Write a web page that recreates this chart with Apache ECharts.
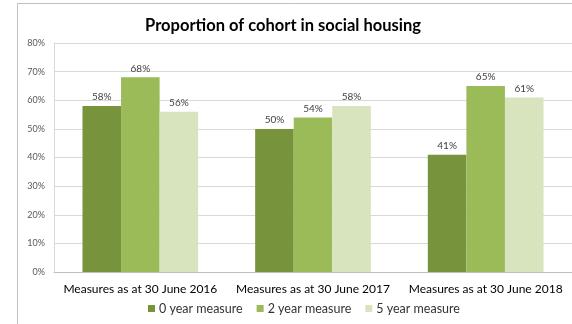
<!DOCTYPE html>
<html>
<head>
<meta charset="utf-8">
<script src="https://cdn.jsdelivr.net/npm/echarts@6/dist/echarts.min.js"></script>
<style>
  html, body { margin: 0; padding: 0; background: #ffffff; }
  #chart { width: 572px; height: 324px; }
</style>
</head>
<body>
<div id="chart"></div>
<script>
// Cohort measures by reporting date
const categories = ['Measures as at 30 June 2016', 'Measures as at 30 June 2017', 'Measures as at 30 June 2018'];
const seriesNames = ['0 year measure', '2 year measure', '5 year measure'];
const zeroYear = [58, 50, 41];
const twoYear = [68, 54, 65];
const fiveYear = [56, 58, 61];
const yTicks = ['0%', '10%', '20%', '30%', '40%', '50%', '60%', '70%', '80%'];

const colors = ['#77933C', '#9BBB59', '#D7E4BD'];
const font = 'Lato, "Open Sans", sans-serif';

const chart = echarts.init(document.getElementById('chart'), null, { renderer: 'canvas' });

function barSeries(name, data, color) {
  return {
    name: name,
    type: 'bar',
    data: data,
    itemStyle: { color: color },
    barGap: '0%',
    barCategoryGap: '33%',
    label: {
      show: true,
      position: 'top',
      distance: 4,
      formatter: p => p.value + '%',
      fontFamily: font,
      fontSize: 10,
      color: '#404040'
    }
  };
}

chart.setOption({
  animation: false,
  backgroundColor: '#ffffff',
  title: {
    text: 'Proportion of cohort in social housing',
    left: 278,
    top: 12,
    textAlign: 'center',
    textStyle: { fontFamily: font, fontWeight: 'bold', fontSize: 16.5, color: '#000000' }
  },
  legend: {
    data: seriesNames,
    bottom: 4,
    left: 143,
    itemWidth: 7,
    itemHeight: 7,
    itemGap: 14,
    icon: 'rect',
    textStyle: { fontFamily: font, fontSize: 12.5, color: '#333333', padding: [0, 0, 0, -1] }
  },
  grid: { left: 54, right: 0, top: 43, bottom: 52 },
  xAxis: {
    type: 'category',
    data: categories,
    axisLine: { lineStyle: { color: '#bfbfbf' } },
    axisTick: { show: false },
    axisLabel: { interval: 0, hideOverlap: false, fontFamily: font, fontSize: 12, color: '#000000', margin: 11 }
  },
  yAxis: {
    type: 'value',
    min: 0,
    max: 80,
    interval: 10,
    axisLine: { show: true, lineStyle: { color: '#d9d9d9' } },
    axisTick: { show: false },
    splitLine: { lineStyle: { color: '#d9d9d9' } },
    axisLabel: {
      fontFamily: font,
      fontSize: 9,
      color: '#595959',
      margin: 9,
      formatter: v => yTicks[Math.round(v / 10)]
    }
  },
  graphic: [{
    type: 'polyline',
    shape: { points: [[17.5, 324], [17.5, 3.5], [572, 3.5]] },
    style: { stroke: '#c0c0c0', lineWidth: 1, fill: null },
    silent: true
  }],
  series: [
    barSeries(seriesNames[0], zeroYear, colors[0]),
    barSeries(seriesNames[1], twoYear, colors[1]),
    barSeries(seriesNames[2], fiveYear, colors[2])
  ]
});
</script>
</body>
</html>
